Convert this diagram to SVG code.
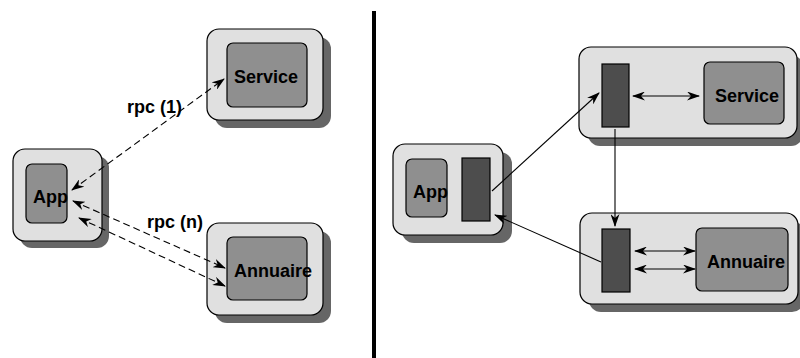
<svg xmlns="http://www.w3.org/2000/svg" width="800" height="358" viewBox="0 0 800 358">
<defs>
<style>
.sh{fill:#666666;stroke:none}
.out{fill:#e0e0e0;stroke:#000;stroke-width:1.2}
.in{fill:#8f8f8f;stroke:#000;stroke-width:1.2}
.dk{fill:#4d4d4d;stroke:#000;stroke-width:1.2}
.t{font-family:"Liberation Sans",Arial,sans-serif;font-weight:bold;font-size:18px;fill:#000}
.c{fill:none;stroke:#000;stroke-width:1.1}
.d{stroke-dasharray:7,4}
</style>
<marker id="ah" viewBox="0 0 13 9" refX="12" refY="4.5" markerWidth="13" markerHeight="9" markerUnits="userSpaceOnUse" orient="auto-start-reverse">
<path d="M0,0 L13,4.5 L0,9 L4,4.5 z" fill="#000"/>
</marker>
</defs>
<rect width="800" height="358" fill="#fff"/>
<line x1="374" y1="11" x2="374" y2="358" stroke="#000" stroke-width="4"/>

<g id="l-service">
<rect class="sh" x="215" y="37" width="116" height="91" rx="12"/>
<rect class="out" x="207" y="29" width="116" height="91" rx="12"/>
<rect class="in" x="227" y="43" width="80" height="64" rx="6"/>
<text class="t" x="234" y="83">Service</text>
</g>
<g id="l-app">
<rect class="sh" x="20" y="156" width="89" height="92" rx="12"/>
<rect class="out" x="13" y="149" width="89" height="92" rx="12"/>
<rect class="in" x="26" y="164" width="41" height="59" rx="6"/>
<text class="t" x="33" y="203">App</text>
</g>
<g id="l-annuaire">
<rect class="sh" x="215" y="231" width="116" height="92" rx="12"/>
<rect class="out" x="207" y="223" width="116" height="92" rx="12"/>
<rect class="in" x="227" y="237" width="80" height="63" rx="6"/>
<text class="t" x="234" y="277">Annuaire</text>
</g>

<g id="r-app">
<rect class="sh" x="402" y="152" width="110" height="91" rx="12"/>
<rect class="out" x="393" y="144" width="110" height="91" rx="12"/>
<rect class="in" x="406" y="159" width="41" height="58" rx="6"/>
<text class="t" x="413" y="198">App</text>
<rect class="dk" x="462" y="158" width="28" height="63"/>
</g>
<g id="r-service">
<rect class="sh" x="588" y="55" width="215" height="91" rx="12"/>
<rect class="out" x="579" y="47" width="218" height="91" rx="12"/>
<rect class="dk" x="602" y="64" width="27" height="63"/>
<rect class="in" x="704" y="62" width="80" height="62" rx="6"/>
<text class="t" x="715" y="102">Service</text>
</g>
<g id="r-annuaire">
<rect class="sh" x="589" y="221" width="215" height="91" rx="12"/>
<rect class="out" x="580" y="213" width="218" height="91" rx="12"/>
<rect class="dk" x="602" y="229" width="28" height="63"/>
<rect class="in" x="696" y="228" width="92" height="63" rx="6"/>
<text class="t" x="707" y="268">Annuaire</text>
</g>

<g id="connectors">
<line class="c d" x1="72" y1="190" x2="224" y2="79" marker-start="url(#ah)" marker-end="url(#ah)"/>
<line class="c d" x1="73" y1="201" x2="225" y2="268" marker-start="url(#ah)" marker-end="url(#ah)"/>
<line class="c d" x1="79" y1="218" x2="225" y2="286" marker-start="url(#ah)" marker-end="url(#ah)"/>
<line class="c" x1="633" y1="96" x2="699" y2="96" marker-start="url(#ah)" marker-end="url(#ah)"/>
<line class="c" x1="635" y1="251" x2="695" y2="251" marker-start="url(#ah)" marker-end="url(#ah)"/>
<line class="c" x1="635" y1="269" x2="695" y2="269" marker-start="url(#ah)" marker-end="url(#ah)"/>
<line class="c" x1="492" y1="191" x2="599" y2="93" marker-end="url(#ah)"/>
<line class="c" x1="615" y1="129" x2="615" y2="226" marker-end="url(#ah)"/>
<line class="c" x1="601" y1="262" x2="495" y2="215" marker-end="url(#ah)"/>
</g>
<text class="t" x="127" y="113">rpc (1)</text>
<text class="t" x="147" y="228">rpc (n)</text>
</svg>
